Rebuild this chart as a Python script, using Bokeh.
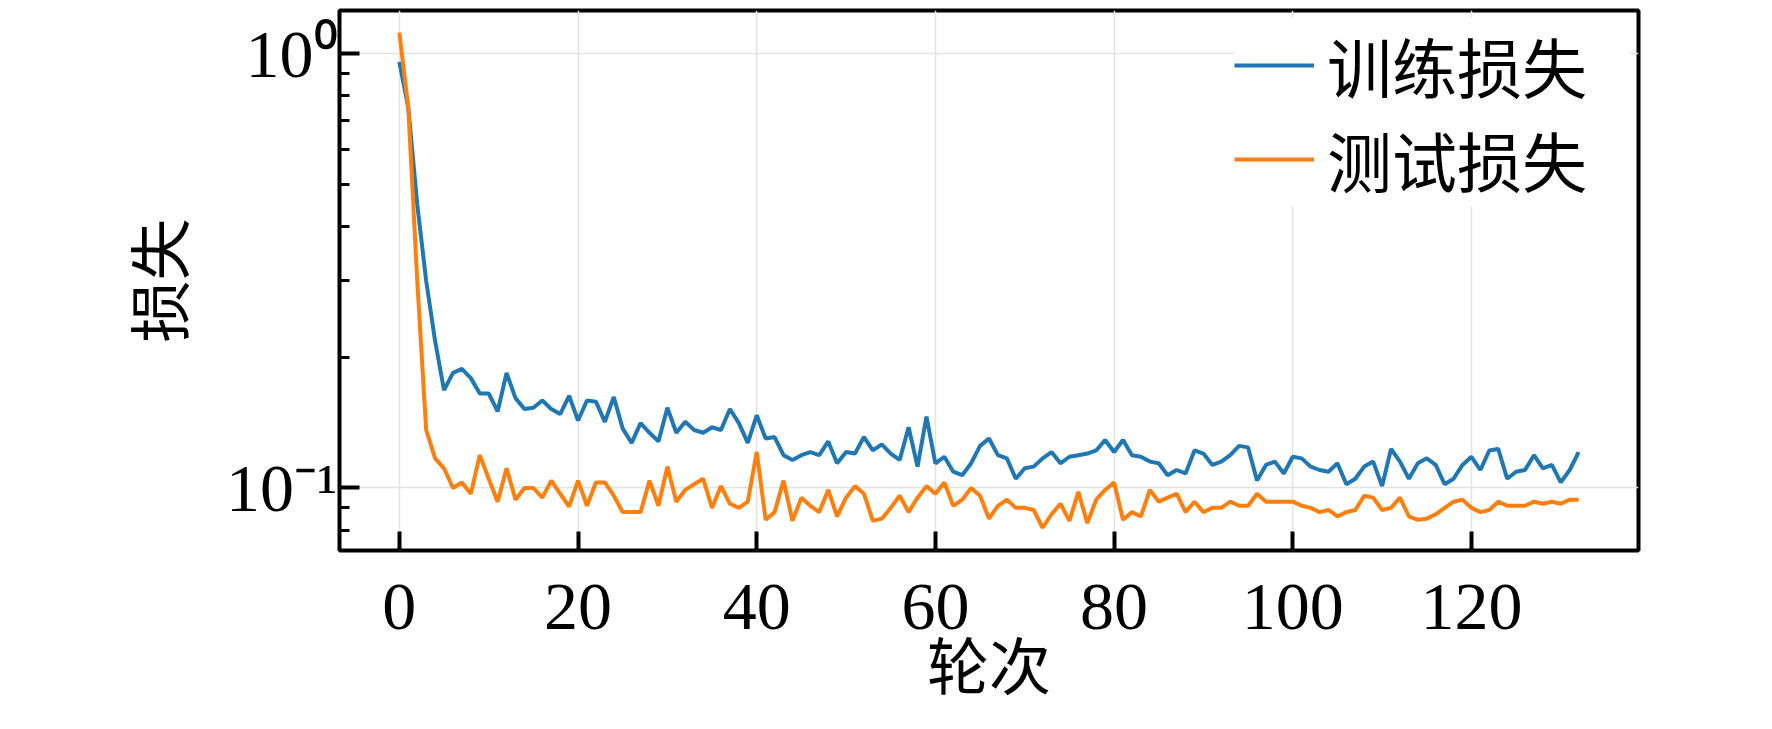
from bokeh.plotting import figure
from bokeh.models import Range1d, Legend, LegendItem, FixedTicker
from bokeh.embed import file_html
from bokeh.resources import INLINE

epochs = list(range(133))

train_loss = [
    0.957, 0.750, 0.450, 0.300, 0.218, 0.168, 0.184, 0.188, 0.179, 0.165,
    0.165, 0.150, 0.184, 0.161, 0.152, 0.153, 0.159, 0.152, 0.148, 0.163,
    0.143, 0.159, 0.158, 0.142, 0.162, 0.137, 0.127, 0.141, 0.134, 0.128,
    0.153, 0.134, 0.142, 0.136, 0.134, 0.138, 0.136, 0.152, 0.141, 0.127,
    0.147, 0.130, 0.131, 0.119, 0.116, 0.119, 0.121, 0.119, 0.128, 0.114,
    0.121, 0.120, 0.131, 0.122, 0.126, 0.120, 0.116, 0.138, 0.112, 0.146,
    0.114, 0.118, 0.109, 0.107, 0.114, 0.125, 0.130, 0.119, 0.117, 0.105,
    0.111, 0.112, 0.117, 0.121, 0.114, 0.118, 0.119, 0.120, 0.122, 0.129,
    0.121, 0.129, 0.119, 0.118, 0.115, 0.114, 0.107, 0.110, 0.108, 0.122,
    0.120, 0.113, 0.115, 0.119, 0.125, 0.124, 0.104, 0.113, 0.115, 0.108,
    0.118, 0.117, 0.112, 0.110, 0.109, 0.114, 0.102, 0.105, 0.112, 0.115,
    0.101, 0.123, 0.115, 0.105, 0.114, 0.117, 0.113, 0.102, 0.105, 0.113,
    0.118, 0.110, 0.122, 0.123, 0.105, 0.109, 0.110, 0.119, 0.111, 0.113,
    0.103, 0.110, 0.121,
]

test_loss = [
    1.117, 0.750, 0.300, 0.136, 0.117, 0.111, 0.100, 0.103, 0.097, 0.119,
    0.105, 0.093, 0.111, 0.094, 0.100, 0.100, 0.095, 0.104, 0.097, 0.0906,
    0.104, 0.091, 0.103, 0.103, 0.096, 0.088, 0.088, 0.088, 0.104, 0.091,
    0.112, 0.093, 0.099, 0.102, 0.105, 0.090, 0.101, 0.092, 0.090, 0.093,
    0.121, 0.0845, 0.088, 0.104, 0.084, 0.095, 0.091, 0.088, 0.099, 0.086,
    0.095, 0.101, 0.097, 0.084, 0.085, 0.090, 0.096, 0.088, 0.095, 0.101,
    0.097, 0.103, 0.091, 0.094, 0.100, 0.096, 0.085, 0.091, 0.094, 0.090,
    0.090, 0.089, 0.081, 0.087, 0.092, 0.084, 0.098, 0.083, 0.094, 0.099,
    0.103, 0.0845, 0.088, 0.086, 0.099, 0.093, 0.095, 0.097, 0.088, 0.093,
    0.088, 0.090, 0.090, 0.093, 0.091, 0.091, 0.097, 0.093, 0.093, 0.093,
    0.093, 0.091, 0.090, 0.088, 0.089, 0.086, 0.088, 0.089, 0.096, 0.095,
    0.089, 0.090, 0.095, 0.086, 0.0845, 0.085, 0.087, 0.090, 0.093, 0.094,
    0.090, 0.088, 0.089, 0.093, 0.091, 0.091, 0.091, 0.093, 0.092, 0.093,
    0.092, 0.094, 0.094,
]

series_names = ["训练损失", "测试损失"]
x_ticks = [0, 20, 40, 60, 80, 100, 120]
y_ticks = [0.1, 1.0]
y_minor_ticks = [0.08, 0.09, 0.2, 0.3, 0.4, 0.5, 0.6, 0.7, 0.8, 0.9]
y_tick_labels = {1.0: "10\u2070", 0.1: "10\u207b\u00b9"}
x_label = "轮次"
y_label = "损失"

SERIF = "Liberation Serif"
CJK = "Noto Sans CJK SC"

p = figure(
    width=1756, height=713,
    y_axis_type="log",
    x_range=Range1d(-6.7, 138.7),
    y_range=Range1d(0.0718, 1.256),
    output_backend="svg", toolbar_location=None,
    min_border_left=339, min_border_right=118,
    min_border_top=10, min_border_bottom=163,
)
p.background_fill_color = "white"
p.border_fill_color = "white"
p.outline_line_color = "black"
p.outline_line_width = 4

r1 = p.line(epochs, train_loss, line_color="#1f77b4", line_width=4)
r2 = p.line(epochs, test_loss, line_color="#ff7f0e", line_width=4)

# x axis
xa = p.xaxis[0]
xa.ticker = FixedTicker(ticks=x_ticks)
xa.axis_line_color = None
xa.major_tick_in = 19
xa.major_tick_out = 0
xa.major_tick_line_width = 4
xa.minor_tick_line_color = None
xa.major_label_text_font = SERIF
xa.major_label_text_font_size = "68px"
xa.major_label_text_color = "black"
xa.major_label_standoff = 34
xa.axis_label = x_label
xa.axis_label_text_font = CJK
xa.axis_label_text_font_size = "62px"
xa.axis_label_text_font_style = "normal"
xa.axis_label_text_color = "black"
xa.axis_label_standoff = -14

# y axis
ya = p.yaxis[0]
ya.ticker = FixedTicker(ticks=y_ticks, minor_ticks=y_minor_ticks)
ya.major_label_overrides = y_tick_labels
ya.axis_line_color = None
ya.major_tick_in = 20
ya.major_tick_out = 0
ya.major_tick_line_width = 4
ya.minor_tick_in = 10
ya.minor_tick_out = 0
ya.minor_tick_line_width = 3
ya.major_label_text_font = SERIF
ya.major_label_text_font_size = "68px"
ya.major_label_text_color = "black"
ya.major_label_standoff = 2
ya.axis_label = y_label
ya.axis_label_text_font = CJK
ya.axis_label_text_font_size = "62px"
ya.axis_label_text_font_style = "normal"
ya.axis_label_text_color = "black"
ya.axis_label_standoff = 21

p.xgrid.ticker = FixedTicker(ticks=x_ticks)
p.ygrid.ticker = FixedTicker(ticks=y_ticks)
for g in (p.xgrid[0], p.ygrid[0]):
    g.grid_line_color = "#e3e3e3"
    g.grid_line_width = 1.5

legend = Legend(
    items=[LegendItem(label=series_names[0], renderers=[r1]),
           LegendItem(label=series_names[1], renderers=[r2])],
    location="top_right",
)
legend.label_text_font = CJK
legend.label_text_font_size = "65px"
legend.label_text_color = "black"
legend.label_width = 303
legend.glyph_width = 80
legend.glyph_height = 40
legend.label_standoff = 13
legend.spacing = -33
legend.padding = 10
legend.margin = 8
legend.border_line_color = None
legend.background_fill_color = "white"
legend.background_fill_alpha = 1.0
p.add_layout(legend)

open("out.html", "w").write(file_html(p, INLINE))
